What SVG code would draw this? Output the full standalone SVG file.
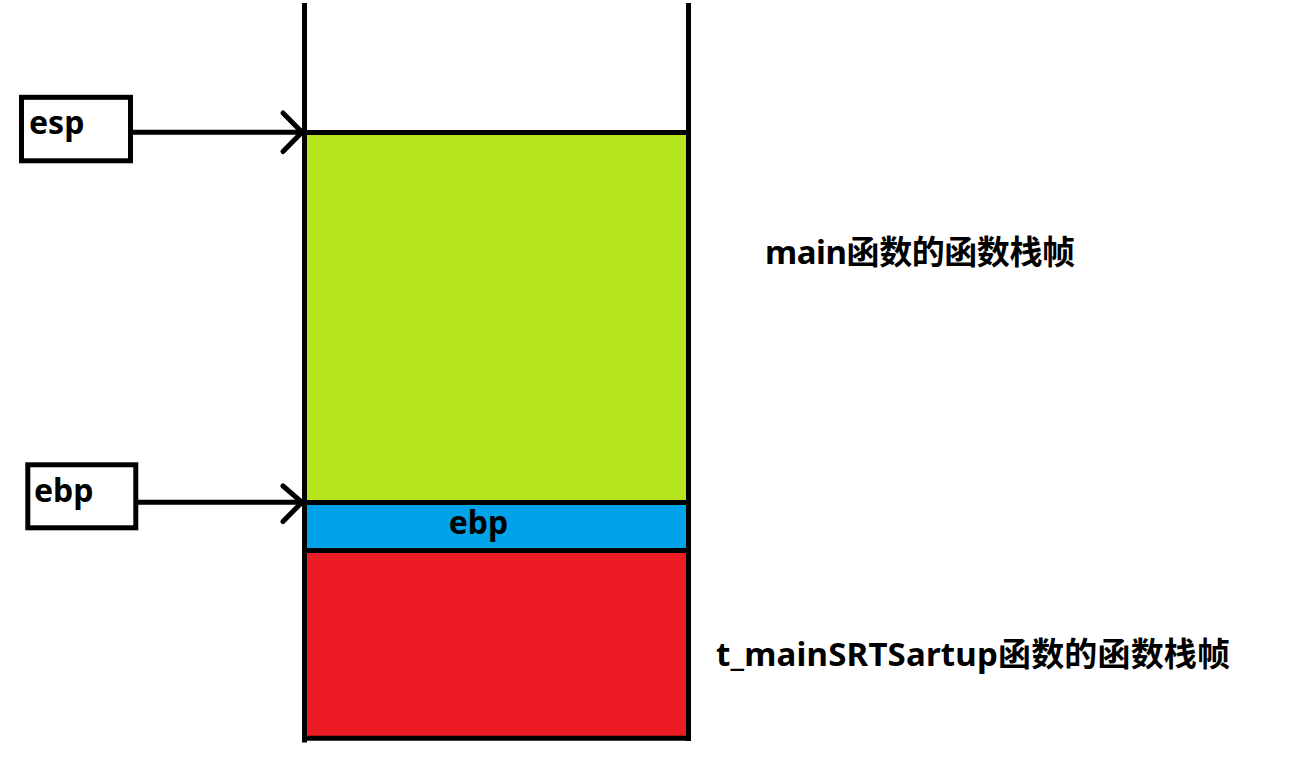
<svg xmlns="http://www.w3.org/2000/svg" width="1299" height="764" viewBox="0 0 1299 764">
<style>
.ln{stroke:#000;stroke-width:5;fill:none}
.box{fill:#fff;stroke:#000;stroke-width:5}
.t{font-family:"Noto Sans","Noto Sans CJK SC",sans-serif;font-weight:bold;font-size:32px;fill:#000}
.big{font-size:33px}
.arr{stroke:#000;stroke-width:5;fill:none;stroke-linecap:round;stroke-linejoin:round}
</style>
<rect width="1299" height="764" fill="#fff"/>
<g id="stack">
<rect x="306" y="134" width="381" height="367" fill="#B5E61D"/>
<rect x="306" y="504" width="381" height="45" fill="#00A2E8"/>
<rect x="306" y="552" width="381" height="185" fill="#ED1C24"/>
<line class="ln" x1="304.5" y1="3" x2="304.5" y2="742.5" stroke-width="4.5"/>
<line class="ln" x1="688.5" y1="3" x2="688.5" y2="741"/>
<line class="ln" x1="302" y1="132.5" x2="691" y2="132.5"/>
<line class="ln" x1="302" y1="502.5" x2="691" y2="502.5"/>
<line class="ln" x1="302" y1="550.5" x2="691" y2="550.5"/>
<line class="ln" x1="302" y1="738.3" x2="691" y2="738.3"/>
</g>
<g id="ebp-slot"><text class="t" x="478.5" y="534" text-anchor="middle">ebp</text></g>
<g id="esp"><rect class="box" x="21.5" y="97.3" width="109" height="63.5" stroke-width="4.6"/><text class="t" x="29" y="134">esp</text></g>
<g id="ebp"><rect class="box" x="27.8" y="464.8" width="108" height="63"/><text class="t" x="34" y="502">ebp</text></g>
<g id="main-label"><text class="t big" x="765" y="264" textLength="310" lengthAdjust="spacing">main函数的函数栈帧</text></g>
<g id="startup-label"><text class="t big" x="716" y="666" textLength="514" lengthAdjust="spacing">t_mainSRTSartup函数的函数栈帧</text></g>
<g id="connectors">
<line class="arr" x1="132" y1="132.3" x2="302" y2="132.3" stroke-linecap="butt"/>
<polyline class="arr" points="283,113 302,132.3 283,151.5"/>
<line class="arr" x1="138" y1="502.3" x2="302" y2="502.3" stroke-linecap="butt"/>
<polyline class="arr" points="283,486 302,502.3 283,521.5"/>
</g>
</svg>
